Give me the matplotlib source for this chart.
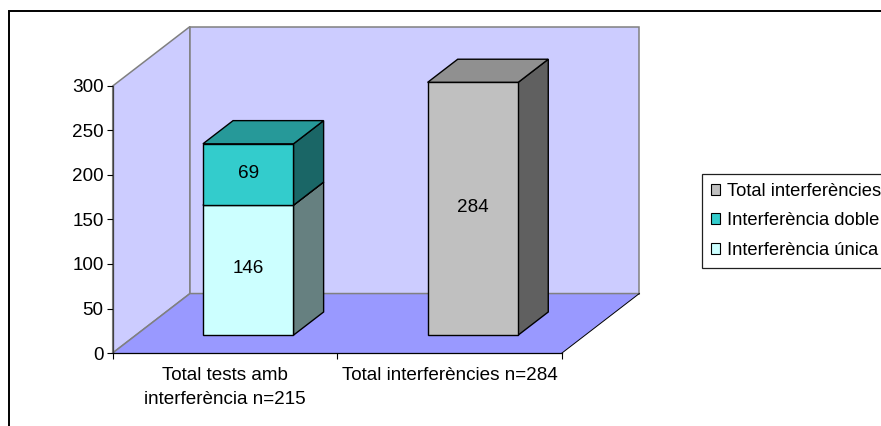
"""Stacked 3D-look column chart of interference counts."""

import matplotlib
matplotlib.use("Agg")
import matplotlib.pyplot as plt
from matplotlib.lines import Line2D
from matplotlib.patches import Patch, Polygon

FS = 13.6
FS_LEGEND = 13.2

plt.rcParams.update({
    "font.family": ["Liberation Sans", "DejaVu Sans"],
    "font.size": FS,
    "axes.linewidth": 0.9,
})

W, H = 881, 426

categories = ["Total tests amb\ninterferència n=215", "Total interferències n=284"]
yticks = [0, 50, 100, 150, 200, 250, 300]

unica = [146, 0]
doble = [69, 0]
total = [0, 284]

series_names = ["Interferència única", "Interferència doble", "Total interferències"]

# front, top, side
COL_UNICA = ("#CCFFFF", "#99BFBF", "#668080")
COL_DOBLE = ("#33CCCC", "#269999", "#1A6666")
COL_TOTAL = ("#C0C0C0", "#909090", "#606060")
COL_WALL = "#CCCCFF"
COL_FLOOR = "#9999FF"
COL_WALL_EDGE = "#808080"

# Oblique projection: shift of the back plane, in data units
DX = 0.344
DY = 66.8
BAR_W = 0.403
D0, D1 = 0.30, 0.69


def px(x, y):
    return x / W, 1 - y / H


def proj(x, y, d):
    return x + d * DX, y + d * DY


fig = plt.figure(figsize=(W / 100, H / 100), dpi=100, facecolor="white")
ax = fig.add_axes([112.7 / W, 1 - 353 / H, (562 - 112.7) / W, (353 - 86) / H])
ax.set_xlim(0, 2)
ax.set_ylim(0, 300)
ax.patch.set_visible(False)


def poly(points, fc, ec, lw=1.0, z=2):
    ax.add_patch(Polygon(points, closed=True, facecolor=fc, edgecolor=ec,
                         linewidth=lw, zorder=z, clip_on=False, joinstyle="miter"))


# Walls and floor
poly([proj(0, 0, 0), proj(0, 300, 0), proj(0, 300, 1), proj(0, 0, 1)], COL_WALL, COL_WALL_EDGE, 1.1, 1)
poly([proj(0, 0, 1), proj(0, 300, 1), proj(2, 300, 1), proj(2, 0, 1)], COL_WALL, COL_WALL_EDGE, 1.1, 1)
poly([proj(0, 0, 0), proj(0, 0, 1), proj(2, 0, 1), proj(2, 0, 0)], COL_FLOOR, "none", 0, 1.1)
ax.plot(*zip(proj(0, 0, 0), proj(0, 0, 1), proj(2, 0, 1)), color=COL_WALL_EDGE,
        lw=1.1, zorder=1.2, clip_on=False)
ax.plot(*zip(proj(2, 0, 0), proj(2, 0, 1)), color="black", lw=0.7, zorder=1.2, clip_on=False)


def column(i, lo, hi, cols, z):
    x0 = i + 0.5 - BAR_W / 2
    x1 = i + 0.5 + BAR_W / 2
    poly([proj(x1, lo, D0), proj(x1, hi, D0), proj(x1, hi, D1), proj(x1, lo, D1)], cols[2], "black", 1.0, z)
    poly([proj(x0, hi, D0), proj(x0, hi, D1), proj(x1, hi, D1), proj(x1, hi, D0)], cols[1], "black", 1.0, z)
    poly([proj(x0, lo, D0), proj(x1, lo, D0), proj(x1, hi, D0), proj(x0, hi, D0)], cols[0], "black", 1.0, z + 0.1)
    if hi > lo:
        tx, ty = proj(i + 0.5, (lo + hi) / 2, D0)
        ax.text(tx, ty + 1.5, str(hi - lo), ha="center", va="center", fontsize=FS,
                color="black", zorder=6)


for i in range(len(categories)):
    if unica[i]:
        column(i, 0, unica[i], COL_UNICA, 3)
        column(i, unica[i], unica[i] + doble[i], COL_DOBLE, 3.5)
    if total[i]:
        column(i, 0, total[i], COL_TOTAL, 3)

# Axes
for s in ("top", "right"):
    ax.spines[s].set_visible(False)
ax.spines["left"].set_color("#404040")
ax.set_yticks(yticks)
ax.set_xticks([0, 1, 2])
ax.set_xticklabels([])
ax.set_xticks([0.5, 1.5], labels=categories, minor=True)
ax.tick_params(axis="y", length=4, width=0.8, pad=2.5, labelsize=FS)
ax.tick_params(axis="x", which="major", length=4, width=0.8)
ax.tick_params(axis="x", which="minor", length=0, pad=10, labelsize=FS)
for lab in ax.get_xticklabels(minor=True):
    lab.set_linespacing(1.55)

# Legend runs off the right edge of the figure
handles = [Patch(facecolor=COL_TOTAL[0], edgecolor="black", linewidth=0.8),
           Patch(facecolor=COL_DOBLE[0], edgecolor="black", linewidth=0.8),
           Patch(facecolor=COL_UNICA[0], edgecolor="black", linewidth=0.8)]
fig.legend(handles, series_names[::-1], loc="upper left", bbox_to_anchor=px(702, 174),
           frameon=True, fancybox=False, framealpha=1, edgecolor="#202020",
           borderaxespad=0, borderpad=0.48, labelspacing=0.68, handlelength=0.52,
           handleheight=0.52, handletextpad=0.36,
           fontsize=FS_LEGEND).get_frame().set_linewidth(0.9)

# Outer chart-area border; only the top and left edges fall inside the figure
fig.add_artist(Line2D([9 / W, 9 / W, 1], [0, 1 - 10.5 / H, 1 - 10.5 / H],
                      color="black", lw=1.4, solid_joinstyle="miter"))

fig.savefig("out.png", dpi=100, facecolor="white")
plt.close(fig)
